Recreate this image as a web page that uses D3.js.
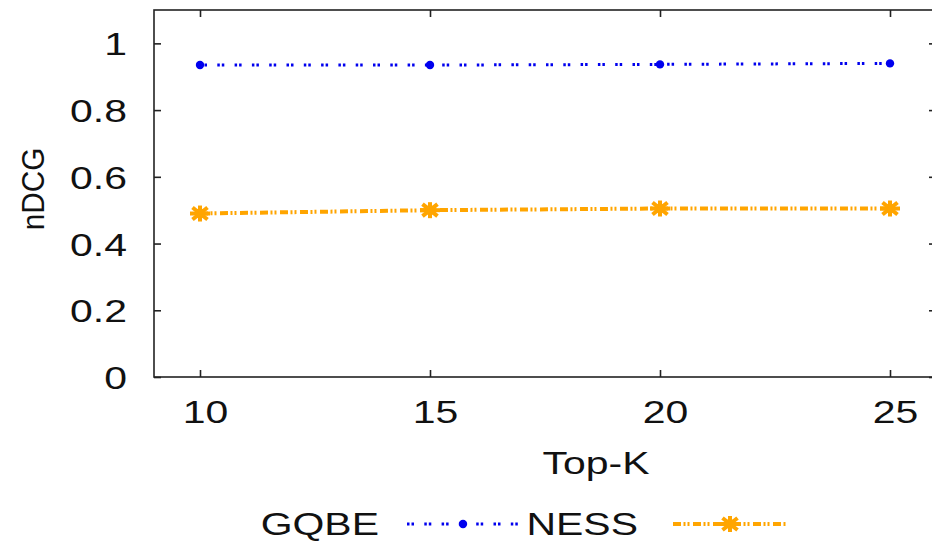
<!DOCTYPE html>
<meta charset="utf-8">
<body style="margin:0;background:#fff">
<svg id="chart" width="932" height="546"></svg>
<script src="https://d3js.org/d3.v7.min.js"></script>
<script>
// values
const topK = [10, 15, 20, 25];
const gqbe = [0.935, 0.935, 0.937, 0.940];
const ness = [0.49, 0.50, 0.505, 0.505];
const yTicks = [0, 0.2, 0.4, 0.6, 0.8, 1];

const font = "'Liberation Sans', Arial, Helvetica, sans-serif";
const fs = 32;
const stretch = 1.28;   // the original's horizontal text is wide

const svg = d3.select("#chart");
svg.append("rect").attr("width", 932).attr("height", 546).attr("fill", "#fff");

const x = d3.scaleLinear().domain([9, 26]).range([154, 936]);
const y = d3.scaleLinear().domain([0, 1.1]).range([377, 10]);

// frame
svg.append("rect")
  .attr("x", x(9)).attr("y", y(1.1))
  .attr("width", x(26) - x(9)).attr("height", y(0) - y(1.1))
  .attr("fill", "none").attr("stroke", "#222").attr("stroke-width", 1.6);

// axes, ticks pointing inwards
const yAxis = svg.append("g")
  .attr("transform", "translate(" + x(9) + ",0)")
  .call(d3.axisLeft(y).tickValues(yTicks).tickSize(-7).tickFormat(d3.format("~g")));
const yAxisR = svg.append("g")
  .attr("transform", "translate(" + x(26) + ",0)")
  .call(d3.axisRight(y).tickValues(yTicks).tickSize(-7).tickFormat(""));
const xAxis = svg.append("g")
  .attr("transform", "translate(0," + y(0) + ")")
  .call(d3.axisBottom(x).tickValues(topK).tickSize(-7));
const xAxisT = svg.append("g")
  .attr("transform", "translate(0," + y(1.1) + ")")
  .call(d3.axisTop(x).tickValues(topK).tickSize(-7).tickFormat(""));

[yAxis, yAxisR, xAxis, xAxisT].forEach(function(g) {
  g.select(".domain").remove();
  g.selectAll("line").attr("stroke", "#222").attr("stroke-width", 1.6);
});

yAxis.selectAll("text")
  .attr("font-family", font).attr("font-size", fs).attr("fill", "#111")
  .attr("x", -27 / stretch).attr("dy", "0.36em")
  .attr("transform", "scale(" + stretch + ",1)");
xAxis.selectAll("text")
  .attr("font-family", font).attr("font-size", fs).attr("fill", "#111")
  .attr("y", 0).attr("dy", 0)
  .attr("transform", "translate(5,46) scale(" + stretch + ",1)");

// axis titles
svg.append("text")
  .attr("transform", "translate(596,474) scale(" + stretch + ",1)")
  .attr("text-anchor", "middle")
  .attr("font-family", font).attr("font-size", fs).attr("fill", "#111")
  .text("Top-K");
svg.append("text")
  .attr("transform", "translate(44,189) rotate(-90) scale(0.93,1)")
  .attr("text-anchor", "middle")
  .attr("font-family", font).attr("font-size", 32).attr("fill", "#111")
  .text("nDCG");

// series
const blueDash = "2.5,2,2.5,10.3";
const orangeDash = "8,2.5,2,2,2,3.5";

function star(g, cx, cy) {
  const r = 10;
  g.append("circle").attr("cx", cx).attr("cy", cy).attr("r", 5).attr("fill", "orange");
  [[-r, 0, r, 0], [0, -r * 0.8, 0, r * 0.8], [-r * 0.75, -r * 0.6, r * 0.75, r * 0.6], [-r * 0.75, r * 0.6, r * 0.75, -r * 0.6]]
    .forEach(function(s) {
      g.append("line")
        .attr("x1", cx + s[0]).attr("y1", cy + s[1])
        .attr("x2", cx + s[2]).attr("y2", cy + s[3])
        .attr("stroke", "orange").attr("stroke-width", 4);
    });
}

const line = d3.line().x(function(d) { return x(d[0]); }).y(function(d) { return y(d[1]); });

svg.append("path")
  .datum(d3.zip(topK, gqbe))
  .attr("d", line)
  .attr("fill", "none").attr("stroke", "#0000ee").attr("stroke-width", 3)
  .attr("stroke-dasharray", blueDash);
svg.append("g").selectAll("circle")
  .data(d3.zip(topK, gqbe))
  .join("circle")
    .attr("cx", function(d) { return x(d[0]); })
    .attr("cy", function(d) { return y(d[1]); })
    .attr("r", 4.2).attr("fill", "#0000ee");

svg.append("path")
  .datum(d3.zip(topK, ness))
  .attr("d", line)
  .attr("fill", "none").attr("stroke", "orange").attr("stroke-width", 4)
  .attr("stroke-dasharray", orangeDash);
const stars = svg.append("g");
d3.zip(topK, ness).forEach(function(d) { star(stars, x(d[0]), y(d[1])); });

// legend
const leg = svg.append("g");
leg.append("text")
  .attr("transform", "translate(379,535) scale(" + stretch + ",1)")
  .attr("text-anchor", "end")
  .attr("font-family", font).attr("font-size", fs).attr("fill", "#111")
  .text("GQBE");
leg.append("line")
  .attr("x1", 407).attr("x2", 518).attr("y1", 524).attr("y2", 524)
  .attr("stroke", "#0000ee").attr("stroke-width", 3).attr("stroke-dasharray", blueDash);
leg.append("circle").attr("cx", 463).attr("cy", 524).attr("r", 4.2).attr("fill", "#0000ee");

leg.append("text")
  .attr("transform", "translate(638,535) scale(" + stretch + ",1)")
  .attr("text-anchor", "end")
  .attr("font-family", font).attr("font-size", fs).attr("fill", "#111")
  .text("NESS");
leg.append("line")
  .attr("x1", 673).attr("x2", 787).attr("y1", 524).attr("y2", 524)
  .attr("stroke", "orange").attr("stroke-width", 4).attr("stroke-dasharray", orangeDash);
star(leg, 730, 524);
</script>
</body>
